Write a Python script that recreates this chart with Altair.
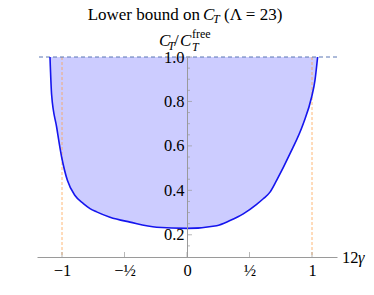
import altair as alt
import pandas as pd

# boundary of the allowed region (12*gamma, C_T/C_T^free)
gamma = [-1.096, -1.083, -1.043, -1.003, -0.957, -0.896, -0.829, -0.776, -0.723,
         -0.616, -0.456, -0.243, 0.0, 0.237, 0.344, 0.45, 0.557, 0.61, 0.664,
         0.717, 0.824, 0.93, 0.997, 1.024, 1.045]
ct = [1.0, 0.83, 0.685, 0.55, 0.445, 0.377, 0.34, 0.318, 0.303,
      0.279, 0.257, 0.234, 0.229, 0.241, 0.264, 0.294, 0.337, 0.362, 0.392,
      0.445, 0.565, 0.70, 0.82, 0.896, 1.0]

bounds = [-1, 1]
free_level = [1.0]
x_ticks = [-1, -0.5, 0, 0.5, 1]
x_tick_labels = ["\u22121", "\u2212\u00bd", "0", "\u00bd", "1"]
y_ticks = [0.2, 0.4, 0.6, 0.8, 1.0]
y_minor = [0.15, 0.25, 0.3, 0.35, 0.45, 0.5, 0.55, 0.65, 0.7, 0.75, 0.85, 0.9, 0.95]

W, H = 300, 200
SERIF = "Liberation Serif"
AX = "#9a9a9a"
INK = "#000000"

xscale = alt.Scale(domain=[-1.2, 1.2], nice=False, zero=False)
yscale = alt.Scale(domain=[0.1, 1.0], nice=False, zero=False)

label_expr = " : ".join(
    f"datum.value == {v} ? '{t}'" for v, t in zip(x_ticks, x_tick_labels)
) + " : ''"

curve = pd.DataFrame({"g": gamma, "ct": ct})

xaxis = alt.Axis(title=None, values=x_ticks, labelExpr=label_expr, grid=False,
                 domainColor=AX, ticks=False, tickSize=0, labelPadding=5,
                 labelFont=SERIF, labelFontSize=16.5, labelColor=INK, zindex=1)
yaxis = alt.Axis(title=None, values=y_ticks, format=".1f", grid=False, orient="left",
                 offset=-150, domainColor=AX, ticks=False, tickSize=0, labelPadding=3,
                 labelFont=SERIF, labelFontSize=16.5, labelColor=INK, zindex=1)

area = alt.Chart(curve).mark_area(color="#ccccff", opacity=1, interpolate="monotone").encode(
    x=alt.X("g:Q", scale=xscale, axis=xaxis),
    y=alt.Y("ct:Q", scale=yscale, axis=yaxis),
    y2=alt.datum(1.0),
)

vlines = alt.Chart(pd.DataFrame({"b": bounds})).mark_rule(
    color="#ffa04a", strokeDash=[3, 2], strokeWidth=1, opacity=0.75
).encode(x=alt.X("b:Q", scale=xscale), y=alt.datum(1.0), y2=alt.datum(0.1))

hline = alt.Chart(pd.DataFrame({"f": free_level})).mark_rule(
    color="#5a76b4", strokeDash=[4, 3], strokeWidth=1
).encode(y=alt.Y("f:Q", scale=yscale))

line = alt.Chart(curve).mark_line(color="#1515ee", strokeWidth=1.6, interpolate="monotone").encode(
    x=alt.X("g:Q", scale=xscale), y=alt.Y("ct:Q", scale=yscale)
)

ymaj = alt.Chart(pd.DataFrame({"v": y_ticks})).mark_tick(
    orient="horizontal", size=5, thickness=1, color=AX, xOffset=2.5
).encode(x=alt.datum(0), y=alt.Y("v:Q", scale=yscale))
ymin = alt.Chart(pd.DataFrame({"v": y_minor})).mark_tick(
    orient="horizontal", size=3, thickness=1, color=AX, xOffset=1.5
).encode(x=alt.datum(0), y=alt.Y("v:Q", scale=yscale))
xmaj = alt.Chart(pd.DataFrame({"v": x_ticks})).mark_tick(
    orient="vertical", size=5, thickness=1, color=AX, yOffset=-2.5
).encode(x=alt.X("v:Q", scale=xscale), y=alt.datum(0.1))


def txt(s, x, y, size=16.5, style="normal", align="left", baseline="alphabetic"):
    return alt.Chart(pd.DataFrame({"t": [s]})).mark_text(
        font=SERIF, fontSize=size, fontStyle=style, align=align, baseline=baseline,
        color=INK
    ).encode(x=alt.value(x), y=alt.value(y), text="t:N")


TY = -37
texts = [
    # title: Lower bound on C_T (Λ=23)
    txt("Lower bound on", 163, TY, size=17, align="right"),
    txt("C", 166, TY, size=17, style="italic"),
    txt("T", 176, TY + 3, size=12, style="italic"),
    txt("(\u039b = 23)", 187, TY, size=17),
    # y label: C_T / C_T^free
    txt("C", 122, -11, size=17, style="italic"),
    txt("T", 131, -7, size=12, style="italic"),
    txt("/", 137, -11, size=17),
    txt("C", 143, -11, size=17, style="italic"),
    txt("free", 155, -19, size=12),
    txt("T", 155, -6, size=12, style="italic"),
    # x label: 12γ
    txt("12", 305, 206),
    txt("\u03b3", 321, 206, style="italic"),
]

chart = alt.layer(area, vlines, hline, line, ymin, ymaj, xmaj, *texts).properties(
    width=W, height=H,
    autosize=alt.AutoSizeParams(type="none"),
    padding={"left": 29, "top": 49, "right": 29, "bottom": 30},
).configure_view(stroke=None)

chart.save("out.html", embed_options={"renderer": "svg", "actions": False})
